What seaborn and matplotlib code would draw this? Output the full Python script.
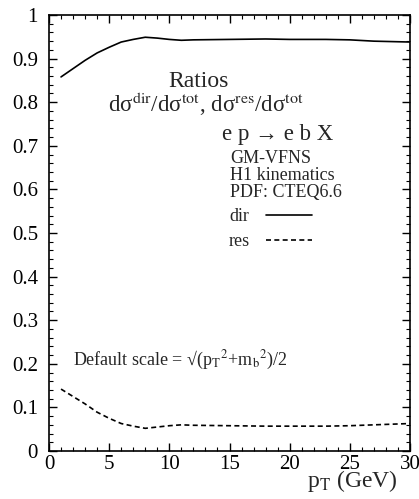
import numpy as np
import pandas as pd
import matplotlib
matplotlib.use("Agg")
import matplotlib.pyplot as plt
from matplotlib.ticker import MultipleLocator, FuncFormatter
import seaborn as sns

# values
pt = [1, 2, 3, 4, 5, 6, 7, 8, 9, 10, 11, 12, 15, 18, 20, 23, 25, 27, 30]
dir_ratio = [0.858, 0.877, 0.896, 0.913, 0.926, 0.938, 0.944, 0.949, 0.947, 0.944, 0.942, 0.943,
             0.944, 0.945, 0.944, 0.944, 0.943, 0.940, 0.938]
res_ratio = [0.142, 0.125, 0.108, 0.089, 0.075, 0.063, 0.057, 0.052, 0.055, 0.058, 0.060, 0.059,
             0.058, 0.057, 0.057, 0.057, 0.058, 0.060, 0.063]

df = pd.DataFrame({"pt": pt, "dir": dir_ratio, "res": res_ratio})

sns.set_theme(style="ticks")
plt.rcParams["font.family"] = ["Liberation Serif", "DejaVu Serif"]
plt.rcParams["mathtext.fontset"] = "stix"

fig = plt.figure(figsize=(4.19, 4.99), dpi=100)
ax = fig.add_axes([49 / 419, 1 - 451 / 499, 361 / 419, 436 / 499])

sns.lineplot(data=df, x="pt", y="dir", ax=ax, color="black", lw=1.2, label="dir")
sns.lineplot(data=df, x="pt", y="res", ax=ax, color="black", lw=1.2, ls=(0, (3, 2)), label="res")

ax.set_xlim(0, 30)
ax.set_ylim(0, 1)
ax.xaxis.set_major_locator(MultipleLocator(5))
ax.xaxis.set_minor_locator(MultipleLocator(1))
ax.yaxis.set_major_locator(MultipleLocator(0.1))
ax.yaxis.set_minor_locator(MultipleLocator(0.02))
fmt = FuncFormatter(lambda v, p: f"{v:g}")
ax.xaxis.set_major_formatter(fmt)
ax.yaxis.set_major_formatter(fmt)
ax.tick_params(which="both", direction="in", top=True, right=True, labelsize=15,
               color="black", labelcolor="black")
ax.tick_params(axis="y", pad=8)
ax.tick_params(axis="x", pad=3)
ax.tick_params(which="major", length=6, width=1)
ax.tick_params(which="minor", length=3, width=0.8)
for s in ax.spines.values():
    s.set_linewidth(1.2)
    s.set_color("black")
ax.set_xlabel("")
ax.set_ylabel("")

fig.text(398 / 419, 1 - 487 / 499, r"p$_{\rm T}$ (GeV)", ha="right", va="baseline", fontsize=17)

ax.text(0.415, 0.848, "Ratios", transform=ax.transAxes, ha="center", va="center", fontsize=17)
ax.text(0.436, 0.795, "dσ$^{\\rm dir}$/dσ$^{\\rm tot}$, dσ$^{\\rm res}$/dσ$^{\\rm tot}$",
        transform=ax.transAxes, ha="center", va="center", fontsize=16.5)
ax.text(0.479, 0.725, "e p → e b X", transform=ax.transAxes, ha="left", va="center", fontsize=16.5)
ax.text(0.501, 0.670, "GM-VFNS", transform=ax.transAxes, ha="left", va="center", fontsize=13)
ax.text(0.501, 0.633, "H1 kinematics", transform=ax.transAxes, ha="left", va="center", fontsize=13)
ax.text(0.501, 0.592, "PDF: CTEQ6.6", transform=ax.transAxes, ha="left", va="center", fontsize=13)

ax.legend(loc="upper left", bbox_to_anchor=(0.497, 0.557), frameon=False, fontsize=13,
          markerfirst=False, handlelength=2.55, handletextpad=0.9, labelspacing=0.45,
          borderaxespad=0, borderpad=0)

ax.text(0.066, 0.209, "Default scale = √(p$_{\\rm T}$$^2$+m$_{\\rm b}$$^2$)/2",
        transform=ax.transAxes, ha="left", va="center", fontsize=13)

fig.savefig("out.png", dpi=100)
